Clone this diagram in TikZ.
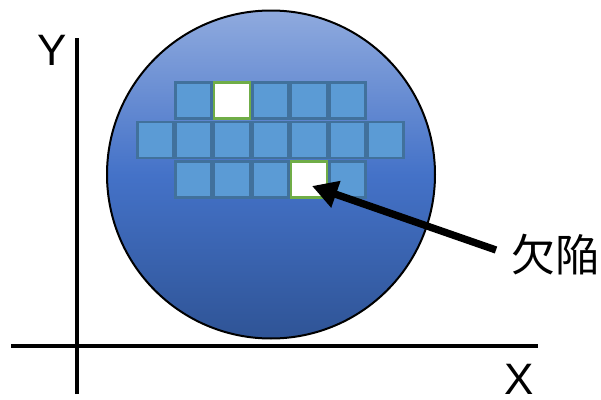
\documentclass[tikz,border=0pt]{standalone}
\usepackage{fontspec}
\setmainfont{Liberation Sans}
\newfontfamily\cjkfont{Noto Sans CJK JP}
\usetikzlibrary{arrows.meta}
\definecolor{wtop}{RGB}{143,170,222}
\definecolor{wmid}{RGB}{68,114,200}
\definecolor{wbot}{RGB}{47,84,150}
\definecolor{chipfill}{RGB}{91,155,213}
\definecolor{chipline}{RGB}{65,113,156}
\definecolor{defline}{RGB}{112,173,71}
\tikzset{
  chip/.style={draw=chipline, fill=chipfill, line width=2pt, minimum size=27pt, inner sep=0pt, outer sep=0pt},
  defect/.style={draw=defline, fill=white, line width=2pt, minimum size=27pt, inner sep=0pt, outer sep=0pt},
  axis/.style={line width=2.6pt, black},
  axlabel/.style={font=\fontsize{33pt}{36pt}\selectfont, inner sep=0pt, text depth=0pt},
  jplabel/.style={font=\cjkfont\fontsize{33pt}{36pt}\selectfont, inner sep=0pt},
  pointer/.style={line width=5.5pt, -{Triangle[length=19pt,width=20pt]}}
}
\begin{document}
\begin{tikzpicture}[x=0.75pt,y=-0.75pt]
\useasboundingbox (0,0) rectangle (601,400);
% wafer
\node[circle, draw=black, line width=1.5pt, minimum size=246pt, inner sep=0pt,
      top color=wtop, bottom color=wbot, middle color=wmid] (wafer) at (271,174.5) {};
% chips
\foreach \k in {-2,...,2} {
  \node[chip] (r1c\k) at (270.5+38.4*\k,100.5) {};
  \node[chip] (r3c\k) at (270.5+38.4*\k,179.5) {};
}
\foreach \k in {-3,...,3} {
  \node[chip] (r2c\k) at (270.5+38.4*\k,140) {};
}
\node[defect] (d1) at (270.5-38.4,100.5) {};
\node[defect] (d2) at (270.5+38.4,179.5) {};
% axes
\coordinate (ytop) at (77,38);
\coordinate (ybot) at (77,394);
\coordinate (xl) at (11,346);
\coordinate (xr) at (538,346);
\draw[axis] (ybot) -- (ytop);
\draw[axis] (xl) -- (xr);
\node[axlabel] (ylab) at (52,50) {Y};
\node[axlabel] (xlab) at (519,379) {X};
% defect label and pointer
\node[jplabel] (lbl) at (555,255) {欠陥};
\coordinate (tail) at (496,250);
\coordinate (tip) at (312,186);
\draw[pointer] (tail) -- (tip);
\end{tikzpicture}
\end{document}
